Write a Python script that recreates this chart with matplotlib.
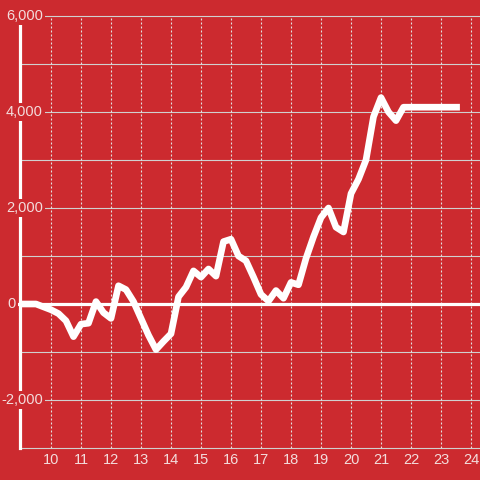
import matplotlib.pyplot as plt
import numpy as np

plt.rcParams['font.family'] = ['Liberation Sans', 'DejaVu Sans']

# data, one point every quarter unit
x_start = 9.0
x_step = 0.25
values = [0, 0, 0, -60, -120, -200, -350, -680, -420, -400,
          50, -180, -300, 380, 300, 50, -300, -650, -950, -780,
          -620, 150, 350, 690, 560, 730, 580, 1300, 1350, 1000,
          900, 560, 200, 60, 280, 120, 450, 400, 950, 1400,
          1800, 2000, 1600, 1500, 2300, 2600, 3000, 3900, 4300, 4000,
          3820, 4100, 4100]
x_end = 23.63
end_value = 4100

x_ticks = list(range(10, 25))
y_grid = list(range(-3000, 7000, 1000))
y_labels = [-2000, 0, 2000, 4000, 6000]

red = '#cc2a2f'
text_col = '#f3dcdc'

xs = list(x_start + x_step * np.arange(len(values))) + [x_end]
ys = values + [end_value]

fig = plt.figure(figsize=(4.8, 4.8), dpi=100, facecolor=red)
ax = fig.add_axes([20 / 480, 32 / 480, 460 / 480, 432 / 480])
ax.set_facecolor(red)
ax.set_xlim(10 - 31 / 30, 24.3)
ax.set_ylim(-3000, 6000)

# grid
for v in y_grid:
    ax.axhline(v, color='#d0d0d0', lw=0.8, zorder=1, clip_on=False)
for t in x_ticks:
    ax.axvline(t, color='#e2e2e2', lw=0.8, ls=(0, (1.8, 1.8)), zorder=1)
ax.axhline(0, xmin=-2 / 460, color='white', lw=2.3, zorder=2, clip_on=False)

ax.plot(xs, ys, color='white', lw=4.8, solid_joinstyle='round',
        solid_capstyle='butt', zorder=3)

for s in ['top', 'right', 'bottom']:
    ax.spines[s].set_visible(False)
ax.spines['left'].set_color('white')
ax.spines['left'].set_linewidth(2.3)
ax.spines['left'].set_zorder(4)

ax.set_xticks(x_ticks)
ax.set_xticklabels([str(t) for t in x_ticks])
ax.tick_params(axis='x', length=0, pad=3.4, labelsize=10.5, labelcolor=text_col)
ax.set_yticks([])

tr = ax.get_yaxis_transform()
for v in y_labels:
    xpos = (16 - 20) / 460 if v == 0 else (43 - 20) / 460
    ax.text(xpos, v, f'{v:,}', transform=tr, ha='right', va='center',
            fontsize=10.5, color=text_col, zorder=6, clip_on=False,
            bbox=dict(facecolor=red, edgecolor='none', pad=1.2))

fig.savefig('out.png', dpi=100, facecolor=red)
